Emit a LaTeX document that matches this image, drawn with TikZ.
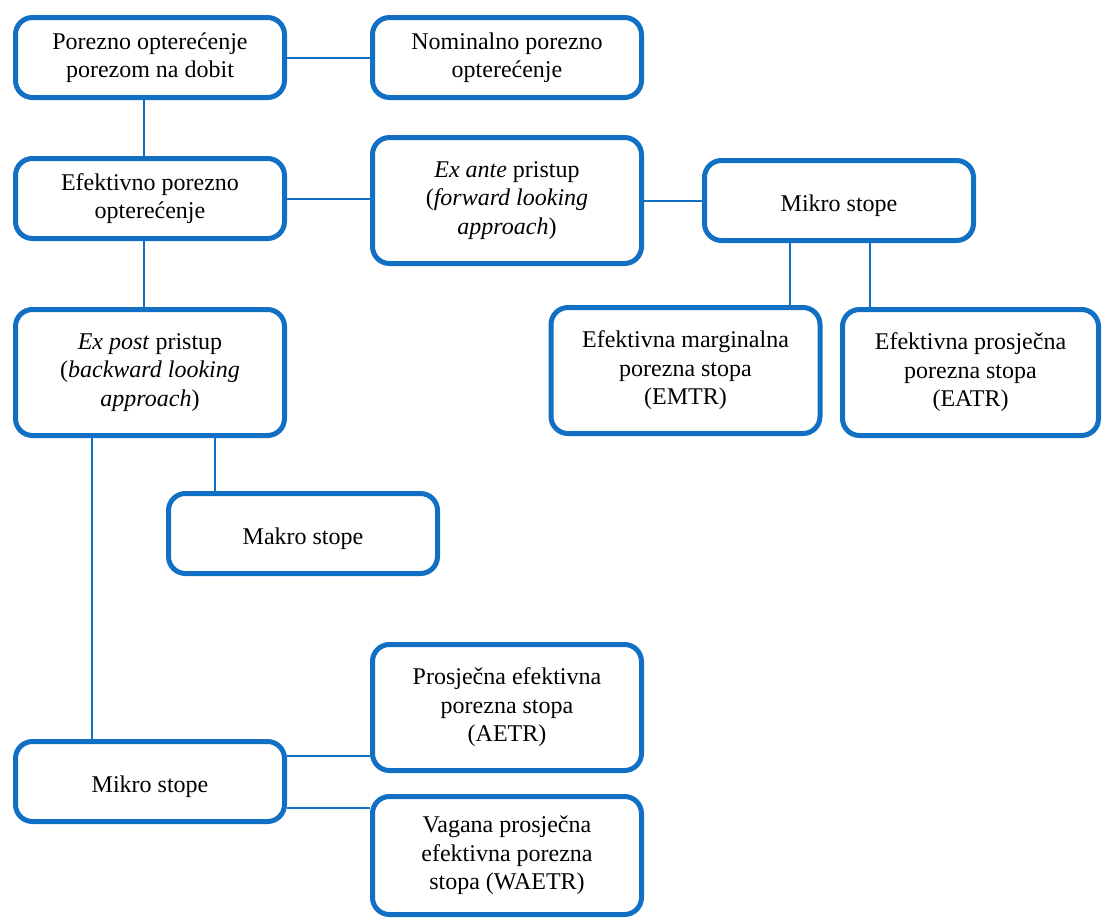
\documentclass[tikz,border=0pt]{standalone}
\usepackage{fontspec}
\setmainfont{Liberation Serif}
\usepackage{xcolor}
\usetikzlibrary{positioning}
\definecolor{boxblue}{RGB}{18,112,196}

\begin{document}
\begin{tikzpicture}[
  every node/.style={draw=boxblue, line width=5pt, rounded corners=17pt,
    fill=white, minimum width=269pt, minimum height=80pt, inner sep=2pt,
    font=\fontsize{24}{28.5}\selectfont, align=center,
    execute at begin node={\rule{0pt}{28pt}}},
  tall/.style={minimum height=126pt},
  link/.style={draw=boxblue, line width=2pt}
]
\useasboundingbox (0,0) rectangle (1104pt,-919pt);

\node[anchor=north west] (pd) at (13pt,-15pt) {Porezno opterećenje\\porezom na dobit};
\node[right=83pt of pd] (nom) {Nominalno porezno\\opterećenje};
\node[below=56pt of pd] (ef) {Efektivno porezno\\opterećenje};
\node[tall, right=83pt of ef, yshift=-2pt] (exa) {\textit{Ex ante} pristup\\(\textit{forward looking}\\\textit{approach})};
\node[right=58pt of exa] (mik) {Mikro stope};
\node[tall, below=62pt of mik, xshift=-153.5pt] (emtr) {Efektivna marginalna\\porezna stopa\\(EMTR)};
\node[tall, minimum width=256pt, below=64pt of mik, xshift=131.5pt] (eatr) {Efektivna prosječna\\porezna stopa\\(EATR)};
\node[tall, below=66pt of ef] (exp) {\textit{Ex post} pristup\\(\textit{backward looking}\\\textit{approach})};
\node[below right=53pt and -121pt of exp] (mak) {Makro stope};
\node[below=301pt of exp] (mikb) {Mikro stope};
\node[tall, above right=-34pt and 83pt of mikb] (aetr) {Prosječna efektivna\\porezna stopa\\(AETR)};
\node[tall, minimum height=118pt, below right=-30pt and 83pt of mikb] (waetr) {Vagana prosječna\\efektivna porezna\\stopa (WAETR)};

\draw[link] (pd) -- (nom);
\draw[link] ([xshift=-6pt]pd.south) -- ([xshift=-6pt]ef.north);
\draw[link] (ef.east) -- (ef.east -| exa.west);
\draw[link] (exa.east) -- (exa.east -| mik.west);
\draw[link] ([xshift=-49pt]mik.south) -- ([xshift=-49pt]mik.south |- emtr.north);
\draw[link] ([xshift=31pt]mik.south) -- ([xshift=31pt]mik.south |- eatr.north);
\draw[link] ([xshift=-6pt]ef.south) -- ([xshift=-6pt]exp.north);
\draw[link] ([xshift=-58pt]exp.south) -- ([xshift=-58pt]exp.south |- mikb.north);
\draw[link] ([xshift=65pt]exp.south) -- ([xshift=65pt]exp.south |- mak.north);
\draw[link] ([yshift=26pt]mikb.east) -- ([yshift=26pt]mikb.east -| aetr.west);
\draw[link] ([yshift=-26pt]mikb.east) -- ([yshift=-26pt]mikb.east -| waetr.west);
\end{tikzpicture}
\end{document}
